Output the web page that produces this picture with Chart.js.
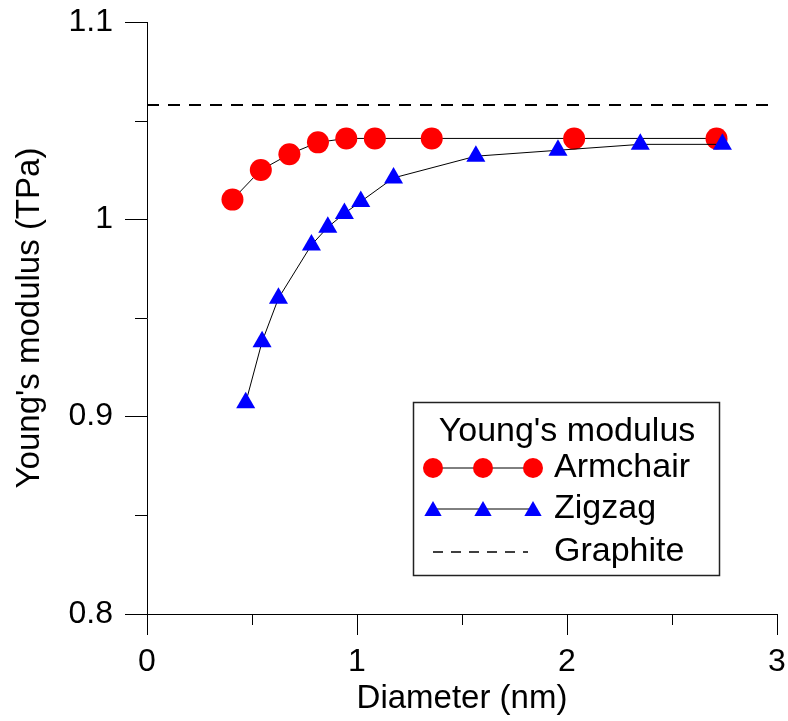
<html lang="en">
<head>
  <meta charset="UTF-8" />
  <title>Young's modulus vs diameter</title>
  <script src="https://cdn.jsdelivr.net/npm/chart.js"></script>
  <style>
    html, body { margin: 0; padding: 0; background: #fff; }
    #wrap { width: 788px; height: 721px; }
  </style>
</head>
<body>
  <div id="wrap"><canvas id="modulusChart" width="788" height="721"></canvas></div>

  <script>
    // nanotube diameters (nm) and Young's modulus (TPa)
    const armchairD = [0.407, 0.542, 0.678, 0.814, 0.949, 1.085, 1.356, 2.034, 2.712];
    const armchairE = [1.010, 1.025, 1.033, 1.039, 1.041, 1.041, 1.041, 1.041, 1.041];
    const zigzagD = [0.470, 0.548, 0.626, 0.783, 0.861, 0.940, 1.018, 1.174, 1.566, 1.957, 2.349, 2.740];
    const zigzagE = [0.907, 0.938, 0.960, 0.987, 0.996, 1.003, 1.009, 1.021, 1.032, 1.035, 1.038, 1.038];
    const graphiteD = [0, 3];
    const graphiteE = [1.058, 1.058];

    const xTicks = [0, 1, 2, 3];
    const xTickLabels = ['0', '1', '2', '3'];
    const xMinorTicks = [0.5, 1.5, 2.5];
    const yTicks = [0.8, 0.9, 1.0, 1.1];
    const yTickLabels = ['0.8', '0.9', '1', '1.1'];
    const yMinorTicks = [0.85, 0.95, 1.05];

    const FONT = 'Liberation Sans, Arial, Helvetica, sans-serif';

    const pts = (xs, ys) => xs.map((x, i) => ({ x, y: ys[i] }));

    // fixed axis box sizes, no extra room for overhanging labels
    function fitAxis(size) {
      return s => {
        if (s.isHorizontal()) s.height = size; else s.width = size;
        s.paddingLeft = s.paddingRight = s.paddingTop = s.paddingBottom = 0;
      };
    }

    // short ticks between the labelled ones
    const minorTicks = {
      id: 'minorTicks',
      afterDraw(chart) {
        const { ctx, chartArea, scales } = chart;
        ctx.save();
        ctx.strokeStyle = '#000';
        ctx.lineWidth = 1;
        ctx.beginPath();
        xMinorTicks.forEach(v => {
          const px = Math.round(scales.x.getPixelForValue(v)) + 0.5;
          ctx.moveTo(px, chartArea.bottom);
          ctx.lineTo(px, chartArea.bottom + 11);
        });
        yMinorTicks.forEach(v => {
          const py = Math.round(scales.y.getPixelForValue(v)) + 0.5;
          ctx.moveTo(chartArea.left - 12, py);
          ctx.lineTo(chartArea.left, py);
        });
        ctx.stroke();
        ctx.restore();
      }
    };

    function mark(ctx, style, x, y, r, color) {
      ctx.fillStyle = color;
      ctx.beginPath();
      if (style === 'triangle') {
        let a = 0;
        ctx.moveTo(x + Math.sin(a) * r, y - Math.cos(a) * r);
        a += 2 * Math.PI / 3;
        ctx.lineTo(x + Math.sin(a) * r, y - Math.cos(a) * r);
        a += 2 * Math.PI / 3;
        ctx.lineTo(x + Math.sin(a) * r, y - Math.cos(a) * r);
        ctx.closePath();
      } else {
        ctx.arc(x, y, r, 0, Math.PI * 2);
      }
      ctx.fill();
    }

    // boxed legend with a title and three-marker samples
    const boxLegend = {
      id: 'boxLegend',
      afterDraw(chart) {
        const { ctx, chartArea } = chart;
        const left = chartArea.left + 266, top = 402, w = 306, h = 173;
        ctx.save();
        ctx.strokeStyle = '#222';
        ctx.lineWidth = 1.5;
        ctx.strokeRect(left + 0.5, top + 0.5, w, h);

        ctx.fillStyle = '#000';
        ctx.font = '34px ' + FONT;
        ctx.textAlign = 'center';
        ctx.textBaseline = 'middle';
        ctx.fillText("Young's modulus", left + 154, top + 30);

        const rows = [top + 66, top + 107, top + 150];
        const x0 = left + 20, x1 = left + 120;
        chart.data.datasets.forEach((ds, i) => {
          const y = rows[i];
          ctx.strokeStyle = '#000';
          if (ds.borderDash) {
            ctx.lineWidth = 1.5;
            ctx.setLineDash([10, 8]);
            ctx.beginPath();
            ctx.moveTo(x0, y);
            ctx.lineTo(x1 - 5, y);
            ctx.stroke();
            ctx.setLineDash([]);
          } else {
            ctx.lineWidth = 1;
            ctx.beginPath();
            ctx.moveTo(x0, y);
            ctx.lineTo(x1, y);
            ctx.stroke();
            [x0, (x0 + x1) / 2, x1].forEach(mx =>
              mark(ctx, ds.pointStyle, mx, ds.pointStyle === 'triangle' ? y + 2 : y, ds.pointRadius - 1, ds.pointBackgroundColor));
          }
          ctx.fillStyle = '#000';
          ctx.textAlign = 'left';
          ctx.fillText(ds.label, left + 141, y);
        });
        ctx.restore();
      }
    };

    new Chart(document.getElementById('modulusChart'), {
      type: 'scatter',
      data: {
        datasets: [
          {
            label: 'Armchair',
            data: pts(armchairD, armchairE),
            showLine: true,
            borderColor: '#000',
            borderWidth: 1,
            pointStyle: 'circle',
            pointRadius: 11,
            pointBackgroundColor: '#ff0000',
            pointBorderWidth: 0,
            order: 2
          },
          {
            label: 'Zigzag',
            data: pts(zigzagD, zigzagE),
            showLine: true,
            borderColor: '#000',
            borderWidth: 1,
            pointStyle: 'triangle',
            pointRadius: 11,
            pointBackgroundColor: '#0000ff',
            pointBorderWidth: 0,
            order: 1
          },
          {
            label: 'Graphite',
            data: pts(graphiteD, graphiteE),
            showLine: true,
            borderColor: '#000',
            borderWidth: 2,
            borderDash: [12, 9],
            pointRadius: 0,
            order: 3
          }
        ]
      },
      options: {
        responsive: false,
        animation: false,
        events: [],
        layout: { autoPadding: false, padding: { top: 22, right: 11, left: 0, bottom: 0 } },
        plugins: { legend: { display: false }, tooltip: { enabled: false } },
        scales: {
          x: {
            type: 'linear',
            min: 0,
            max: 3,
            afterFit: fitAxis(107),
            afterBuildTicks: s => { s.ticks = xTicks.map(v => ({ value: v })); },
            border: { color: '#000', width: 1 },
            grid: { drawOnChartArea: false, color: '#000', tickLength: 21 },
            ticks: {
              color: '#000',
              font: { family: FONT, size: 32 },
              padding: 8,
              callback: v => xTickLabels[xTicks.indexOf(v)]
            },
            title: {
              display: true,
              text: 'Diameter (nm)',
              color: '#000',
              font: { family: FONT, size: 33 },
              padding: { top: 0, bottom: 2 }
            }
          },
          y: {
            type: 'linear',
            min: 0.8,
            max: 1.1,
            afterFit: fitAxis(147),
            afterBuildTicks: s => { s.ticks = yTicks.map(v => ({ value: v })); },
            border: { color: '#000', width: 1 },
            grid: { drawOnChartArea: false, color: '#000', tickLength: 22 },
            ticks: {
              color: '#000',
              font: { family: FONT, size: 32 },
              padding: 12,
              callback: v => yTickLabels[yTicks.indexOf(v)]
            },
            title: {
              display: true,
              text: "Young's modulus (TPa)",
              color: '#000',
              font: { family: FONT, size: 33 },
              padding: { top: 10, bottom: 0 }
            }
          }
        }
      },
      plugins: [minorTicks, boxLegend]
    });
  </script>
</body>
</html>
